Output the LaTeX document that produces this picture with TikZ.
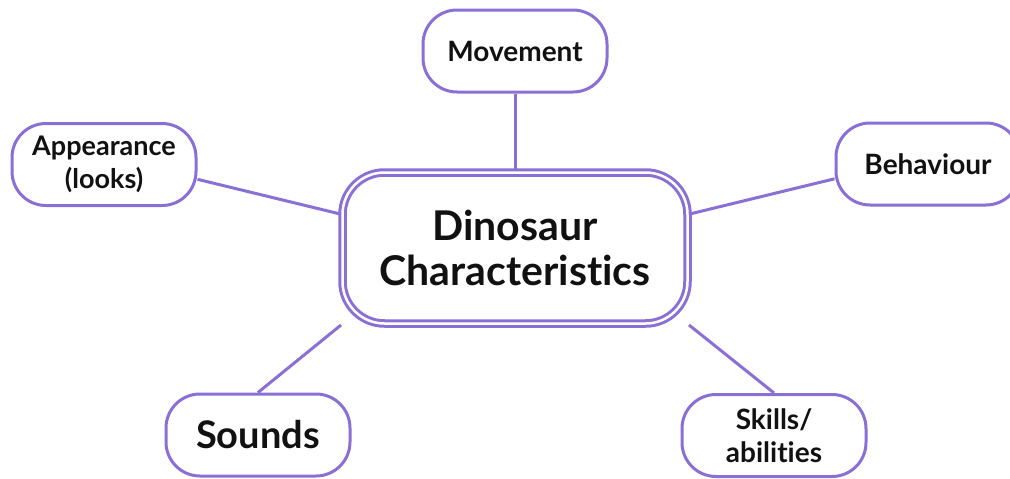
\documentclass[tikz,border=0pt]{standalone}
\usepackage{fontspec}
\setmainfont{Lato}[Ligatures={NoCommon}]
\usetikzlibrary{positioning,backgrounds}
\definecolor{lilac}{HTML}{8A6FD6}
\definecolor{ink}{HTML}{111111}
\tikzset{
  topic/.style={draw=lilac,line width=3pt,fill=white,rounded corners=34pt,
    minimum width=184pt,minimum height=82pt,align=center,text=ink,inner sep=2pt,
    font=\bfseries\fontsize{28}{33}\selectfont},
  hub/.style={draw=lilac,double=white,double distance=2.5pt,line width=3pt,
    fill=white,rounded corners=42pt,minimum width=345pt,minimum height=151pt,
    align=center,text=ink,inner sep=2pt,font=\bfseries\fontsize{41}{45}\selectfont},
  link/.style={draw=lilac,line width=3pt},
}
\begin{document}
\begin{tikzpicture}[x=1pt,y=-1pt]
  \useasboundingbox (0,0) rectangle (1010,479);
  \clip (0,0) rectangle (1010,479);
  \node[hub] (core) at (515,248) {Dinosaur\\Characteristics};
  \node[topic] (move) at (515,51) {Movement};
  \node[topic,font=\bfseries\fontsize{27}{33}\selectfont] (look) at (104,164.5) {Appearance\\(looks)};
  \node[topic] (act) at (928,164) {Behaviour};
  \node[topic,font=\bfseries\fontsize{38}{44}\selectfont] (sound) at (258,435) {Sounds};
  \node[topic] (skill) at (774,435.5) {Skills/\\abilities};
  % spokes behind the boxes
  \begin{scope}[on background layer]
    \draw[link] (move.south) -- (core.north);
    \draw[link] (look.-9) -- (core.169);
    \draw[link] (act.-171) -- (core.11);
    \draw[link] (sound.north) -- (core.south west);
    \draw[link] (skill.north) -- (core.south east);
  \end{scope}
\end{tikzpicture}
\end{document}
